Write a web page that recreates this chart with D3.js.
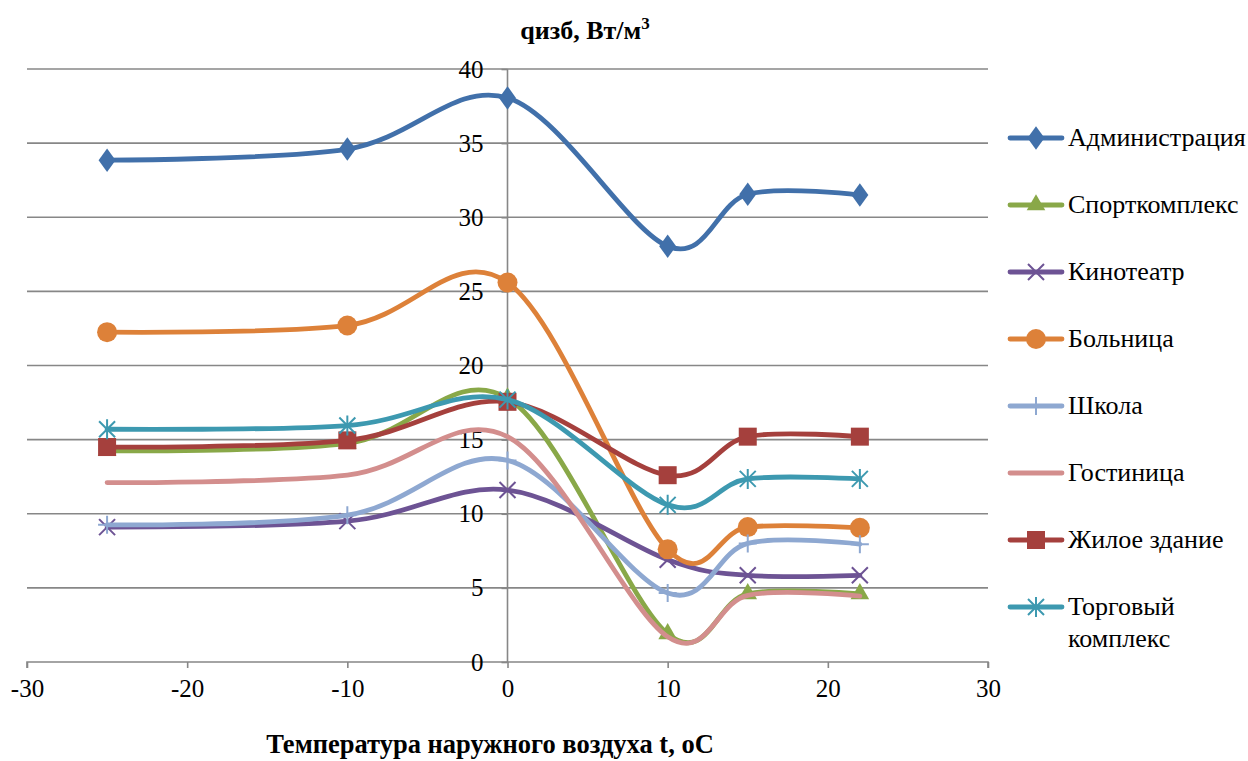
<!DOCTYPE html>
<html>
<head>
<meta charset="utf-8">
<script src="https://cdn.jsdelivr.net/npm/d3@7"></script>
<style>
  html, body { margin: 0; padding: 0; background: #fff; }
</style>
</head>
<body>
<svg id="chart" width="1248" height="761"></svg>
<script>
// Outdoor temperatures, °C
const temps = [-25, -10, 0, 10, 15, 22];

// Specific heat loss per building type, W/m³
const seriesNames = ["Администрация", "Спорткомплекс", "Кинотеатр", "Больница",
                     "Школа", "Гостиница", "Жилое здание", "Торговый комплекс"];
const adminVals   = [33.85, 34.6, 38.05, 28.05, 31.55, 31.5];
const sportVals   = [14.25, 14.75, 17.8, 1.9, 4.6, 4.6];
const cinemaVals  = [9.1, 9.5, 11.6, 6.9, 5.85, 5.85];
const hospVals    = [22.25, 22.7, 25.6, 7.6, 9.1, 9.05];
const schoolVals  = [9.25, 9.9, 13.6, 4.65, 8.0, 7.95];
const hotelVals   = [12.1, 12.6, 15.2, 1.7, 4.5, 4.45];
const houseVals   = [14.5, 14.95, 17.55, 12.6, 15.2, 15.2];
const tradeVals   = [15.7, 15.95, 17.7, 10.6, 12.35, 12.35];

const xTicks = [-30, -20, -10, 0, 10, 20, 30];
const yTicks = [0, 5, 10, 15, 20, 25, 30, 35, 40];

const series = [
  { name: seriesNames[0], values: adminVals,  color: "#4170AA", marker: "diamond" },
  { name: seriesNames[1], values: sportVals,  color: "#89A848", marker: "triangle" },
  { name: seriesNames[2], values: cinemaVals, color: "#6D5394", marker: "x" },
  { name: seriesNames[3], values: hospVals,   color: "#DD8139", marker: "circle" },
  { name: seriesNames[4], values: schoolVals, color: "#8EA8D1", marker: "plus" },
  { name: seriesNames[5], values: hotelVals,  color: "#D38E8D", marker: "none" },
  { name: seriesNames[6], values: houseVals,  color: "#A5403D", marker: "square" },
  { name: seriesNames[7], values: tradeVals,  color: "#3D99B0", marker: "star" }
];

const FONT = "'Liberation Serif'";
const svg = d3.select("#chart");
const x = d3.scaleLinear().domain([-30, 30]).range([27, 988]);
const y = d3.scaleLinear().domain([0, 40]).range([662, 69]);
const gridColor = "#878787";

// Horizontal gridlines
svg.append("g")
  .selectAll("line")
  .data(yTicks.filter(d => d > 0))
  .join("line")
  .attr("x1", x(-30)).attr("x2", x(30))
  .attr("y1", d => y(d)).attr("y2", d => y(d))
  .attr("stroke", gridColor).attr("stroke-width", 1.6);

// X axis crossing at y = 0
const xAxis = svg.append("g")
  .attr("transform", `translate(0,${y(0)})`)
  .call(d3.axisBottom(x).tickValues(xTicks).tickSize(6).tickPadding(11).tickFormat(d3.format("d")));
xAxis.select(".domain").attr("stroke", gridColor).attr("stroke-width", 1.6)
  .attr("d", `M${x(-30)},6V0H${x(30)}V6`);
xAxis.selectAll(".tick line").attr("stroke", gridColor).attr("stroke-width", 1.6);
xAxis.selectAll(".tick text")
  .style("font-family", FONT).style("font-size", "25px").attr("fill", "#000")
  .text(d => d < 0 ? "-" + Math.abs(d) : d);

// Y axis crossing at x = 0
const yAxis = svg.append("g")
  .attr("transform", `translate(${x(0)},0)`)
  .call(d3.axisLeft(y).tickValues(yTicks).tickSize(6).tickPadding(18));
yAxis.select(".domain").attr("stroke", gridColor).attr("stroke-width", 1.6)
  .attr("d", `M0,${y(40)}V${y(0)}`);
yAxis.selectAll(".tick line").attr("stroke", gridColor).attr("stroke-width", 1.6);
yAxis.selectAll(".tick text")
  .style("font-family", FONT).style("font-size", "25px").attr("fill", "#000");

// Titles
const title = svg.append("text")
  .attr("x", 585).attr("y", 39)
  .attr("text-anchor", "middle")
  .style("font-family", FONT).style("font-size", "26px").style("font-weight", "bold");
title.append("tspan").text("qизб, Вт/м");
title.append("tspan").attr("dy", -10).style("font-size", "17px").text("3");

svg.append("text")
  .attr("x", 490).attr("y", 753)
  .attr("text-anchor", "middle")
  .style("font-family", FONT).style("font-size", "26.5px").style("font-weight", "bold")
  .text("Температура наружного воздуха t, oC");

// Marker drawing
function drawMarker(g, type, color) {
  switch (type) {
    case "diamond":
      g.append("path").attr("d", d3.symbol(d3.symbolDiamond, 160)()).attr("fill", color)
        .attr("transform", "scale(1.25,1)");
      break;
    case "triangle":
      g.append("path").attr("d", d3.symbol(d3.symbolTriangle, 150)()).attr("fill", color);
      break;
    case "circle":
      g.append("circle").attr("r", 10).attr("fill", color);
      break;
    case "square":
      g.append("rect").attr("x", -9).attr("y", -9).attr("width", 18).attr("height", 18).attr("fill", color);
      break;
    case "x":
      g.append("path").attr("d", "M-8,-8L8,8M-8,8L8,-8").attr("stroke", color).attr("stroke-width", 2);
      break;
    case "plus":
      g.append("path").attr("d", "M0,-9V9M-9,0H9").attr("stroke", color).attr("stroke-width", 2);
      break;
    case "star":
      g.append("path").attr("d", "M-8,-8L8,8M-8,8L8,-8M0,-10V10").attr("stroke", color).attr("stroke-width", 2);
      break;
  }
}

const line = d3.line()
  .x((d, i) => x(temps[i]))
  .y(d => y(d))
  .curve(d3.curveCardinal.tension(0));

// Series lines and markers
series.forEach(s => {
  const g = svg.append("g");
  g.append("path")
    .attr("d", line(s.values))
    .attr("fill", "none")
    .attr("stroke", s.color)
    .attr("stroke-width", 4.8)
    .attr("stroke-linecap", "round")
    .attr("stroke-linejoin", "round");
  s.values.forEach((v, i) => {
    const m = g.append("g").attr("transform", `translate(${x(temps[i])},${y(v)})`);
    drawMarker(m, s.marker, s.color);
  });
});

// Legend
const legend = svg.append("g");
series.forEach((s, i) => {
  const cy = 138 + i * 67;
  const row = legend.append("g");
  row.append("line")
    .attr("x1", 1010).attr("x2", 1062).attr("y1", cy).attr("y2", cy)
    .attr("stroke", s.color).attr("stroke-width", 4.8).attr("stroke-linecap", "round");
  drawMarker(row.append("g").attr("transform", `translate(1036,${cy})`), s.marker, s.color);
  const words = s.name === "Торговый комплекс" ? ["Торговый", "комплекс"] : [s.name];
  const t = row.append("text").attr("x", 1068).attr("y", cy + 8)
    .style("font-family", FONT).style("font-size", "26px");
  words.forEach((w, k) => {
    t.append("tspan").attr("x", 1068).attr("dy", k === 0 ? 0 : 32).text(w);
  });
});
</script>
</body>
</html>
